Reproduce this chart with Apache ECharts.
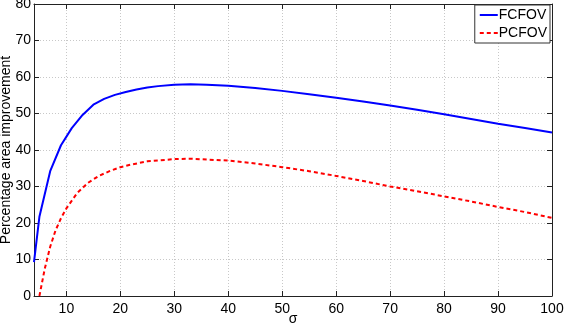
<!DOCTYPE html>
<html>
<head>
<meta charset="utf-8">
<script src="https://cdn.jsdelivr.net/npm/echarts@6/dist/echarts.min.js"></script>
<style>html,body{margin:0;padding:0;background:#fff}#c{width:564px;height:323px}</style>
</head>
<body>
<div id="c"></div>
<script>
const xTicks = [10, 20, 30, 40, 50, 60, 70, 80, 90, 100];
const yTicks = [0, 10, 20, 30, 40, 50, 60, 70, 80];
const fcfovX = [4, 5, 7, 9, 11, 13, 15, 17, 19, 21, 23, 25, 27, 30, 33, 36, 40, 45, 50, 55, 60, 65, 70, 75, 80, 85, 90, 95, 100];
const fcfovY = [9.3, 21.7, 34.2, 41.3, 46.0, 49.6, 52.4, 54.0, 55.1, 55.9, 56.6, 57.1, 57.5, 57.9, 58.0, 57.9, 57.6, 57.0, 56.2, 55.3, 54.3, 53.3, 52.2, 51.0, 49.8, 48.5, 47.2, 46.0, 44.8];
const pcfovX = [5, 6, 7, 8, 9, 10, 12, 14, 16, 18, 20, 22, 25, 30, 33, 40, 45, 50, 55, 60, 65, 70, 75, 80, 85, 90, 95, 100];
const pcfovY = [0, 7.5, 13.5, 18.0, 21.3, 24.0, 28.2, 31.0, 32.9, 34.2, 35.3, 36.0, 36.9, 37.5, 37.6, 37.1, 36.3, 35.3, 34.2, 32.9, 31.5, 30.0, 28.7, 27.3, 25.9, 24.4, 23.0, 21.4];
const seriesNames = ['FCFOV', 'PCFOV'];

const font = 'Liberation Sans';
const zip = (xs, ys) => xs.map((x, i) => [x, ys[i]]);
const tickStyle = {show: true, inside: true, length: 5, lineStyle: {color: '#222'}};
const gridLine = {show: true, lineStyle: {color: '#c8c8c8', type: [1, 2], width: 1}};

const chart = echarts.init(document.getElementById('c'), null, {renderer: 'canvas'});
chart.setOption({
  animation: false,
  backgroundColor: '#fff',
  textStyle: {fontFamily: font},
  grid: {left: 34, right: 12, top: 4, bottom: 27, containLabel: false, outerBoundsMode: 'none'},
  legend: {
    orient: 'vertical', right: 14, top: 5,
    data: seriesNames,
    backgroundColor: '#fff', borderColor: '#333', borderWidth: 1,
    padding: [3, 3, 3, 4], itemGap: 4, itemWidth: 18, itemHeight: 10,
    itemStyle: {opacity: 0},
    textStyle: {fontFamily: font, fontSize: 14, color: '#000', padding: [0, 0, 0, -4]}
  },
  xAxis: [{
    type: 'value', min: 4, max: 100, position: 'bottom',
    name: 'σ', nameLocation: 'middle', nameGap: 16, nameMoveOverlap: false,
    nameTextStyle: {fontFamily: font, fontSize: 14, color: '#000'},
    axisLine: {show: true, onZero: false, lineStyle: {color: '#222'}},
    axisTick: Object.assign({customValues: xTicks}, tickStyle),
    axisLabel: {customValues: xTicks, color: '#000', fontSize: 14, fontFamily: font, margin: 6},
    splitLine: gridLine
  }, {
    type: 'value', min: 4, max: 100, position: 'top',
    axisLine: {show: true, onZero: false, lineStyle: {color: '#222'}},
    axisTick: Object.assign({customValues: xTicks}, tickStyle),
    axisLabel: {show: false},
    splitLine: {show: false}
  }],
  yAxis: [{
    type: 'value', min: 0, max: 80, interval: 10, position: 'left',
    name: 'Percentage area improvement', nameLocation: 'middle', nameGap: 21, nameMoveOverlap: false,
    nameTextStyle: {fontFamily: font, fontSize: 14, color: '#000'},
    axisLine: {show: true, onZero: false, lineStyle: {color: '#222'}},
    axisTick: tickStyle,
    axisLabel: {color: '#000', fontSize: 14, fontFamily: font, margin: 3},
    splitLine: gridLine
  }, {
    type: 'value', min: 0, max: 80, interval: 10, position: 'right',
    axisLine: {show: true, onZero: false, lineStyle: {color: '#222'}},
    axisTick: tickStyle,
    axisLabel: {show: false},
    splitLine: {show: false}
  }],
  series: [{
    name: seriesNames[0], type: 'line', data: zip(fcfovX, fcfovY),
    showSymbol: false, symbol: 'none', clip: true,
    lineStyle: {color: '#0000ff', width: 2}, itemStyle: {color: '#0000ff'}
  }, {
    name: seriesNames[1], type: 'line', data: zip(pcfovX, pcfovY),
    showSymbol: false, symbol: 'none', clip: true,
    lineStyle: {color: '#ff0000', width: 2, type: [4, 3]}, itemStyle: {color: '#ff0000'}
  }]
});
</script>
</body>
</html>
